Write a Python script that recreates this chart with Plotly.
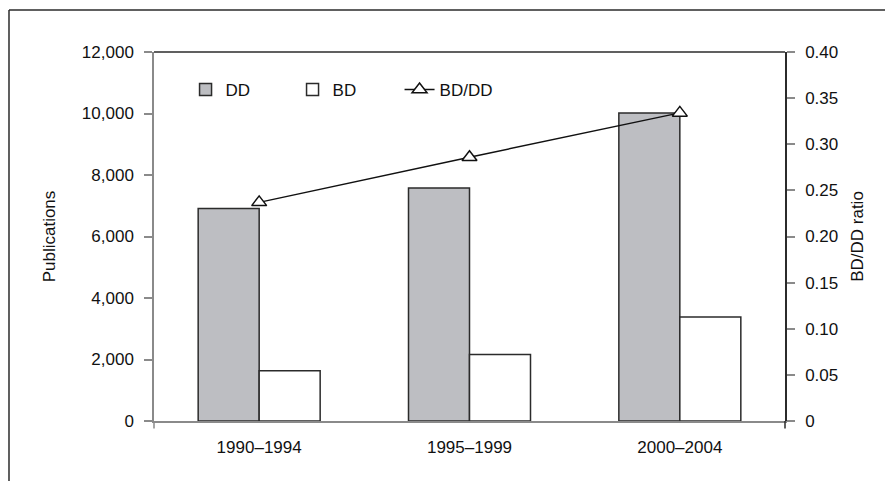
import plotly.graph_objects as go

periods = ["1990–1994", "1995–1999", "2000–2004"]
dd_values = [6910, 7580, 10020]
bd_values = [1635, 2165, 3380]
ratio_values = [0.237, 0.286, 0.334]

left_ticks = [0, 2000, 4000, 6000, 8000, 10000, 12000]
right_ticks = [0, 0.05, 0.10, 0.15, 0.20, 0.25, 0.30, 0.35, 0.40]
right_tick_text = ["0", "0.05", "0.10", "0.15", "0.20", "0.25", "0.30", "0.35", "0.40"]

FONT = "Liberation Sans"
DARK = "#2b2b2b"
GREY_AXIS = "#8a8a8a"
FS = 17

fig = go.Figure()
fig.add_trace(go.Bar(
    x=periods, y=dd_values, name="DD",
    marker=dict(color="#bdbec2", line=dict(color=DARK, width=1.5)),
))
fig.add_trace(go.Bar(
    x=periods, y=bd_values, name="BD",
    marker=dict(color="#ffffff", line=dict(color=DARK, width=1.5)),
))
fig.add_trace(go.Scatter(
    x=periods, y=ratio_values, name="BD/DD", yaxis="y2",
    mode="lines+markers",
    line=dict(color="#111111", width=1.5),
    marker=dict(symbol="triangle-up", size=13, color="#ffffff",
                line=dict(color="#111111", width=1.5)),
))

fig.update_layout(
    width=885, height=473,
    margin=dict(l=146, r=108, t=44, b=60),
    paper_bgcolor="white", plot_bgcolor="white",
    font=dict(family=FONT, size=FS, color="#111111"),
    barmode="group", bargap=0.42, bargroupgap=0,
    showlegend=True,
    legend=dict(orientation="h", x=0.05, xanchor="left", y=0.897, yanchor="middle",
                entrywidth=62, entrywidthmode="pixels",
                font=dict(family=FONT, size=FS), bgcolor="rgba(0,0,0,0)",
                traceorder="normal"),
    xaxis=dict(
        showline=True, linecolor=GREY_AXIS, linewidth=1.5,
        ticks="", showgrid=False, zeroline=False,
        ticklabelstandoff=10,
        tickfont=dict(family=FONT, size=FS),
    ),
    yaxis=dict(
        range=[0, 12000], tickvals=left_ticks, tickformat=",d",
        showline=True, linecolor=GREY_AXIS, linewidth=1.5,
        ticks="outside", ticklen=8, tickcolor=GREY_AXIS, tickwidth=1.5,
        ticklabelstandoff=7,
        showgrid=False, zeroline=False,
        title=dict(text="Publications", font=dict(family=FONT, size=FS), standoff=22),
        tickfont=dict(family=FONT, size=FS),
    ),
    yaxis2=dict(
        range=[0, 0.40], tickvals=right_ticks, ticktext=right_tick_text,
        overlaying="y", side="right",
        showline=True, linecolor=DARK, linewidth=1.5,
        ticks="outside", ticklen=8, tickcolor=GREY_AXIS, tickwidth=1.5,
        ticklabelstandoff=7,
        showgrid=False, zeroline=False,
        title=dict(text="BD/DD ratio", font=dict(family=FONT, size=FS), standoff=14),
        tickfont=dict(family=FONT, size=FS),
    ),
    shapes=[
        # top border of plot area
        dict(type="line", xref="paper", yref="paper", x0=0, x1=1, y0=1, y1=1,
             line=dict(color=DARK, width=1.5)),
        # axis extensions below zero
        dict(type="line", xref="paper", yref="paper", x0=0, x1=0, y0=0, y1=-0.02,
             line=dict(color=GREY_AXIS, width=1.5)),
        dict(type="line", xref="paper", yref="paper", x0=1, x1=1, y0=0, y1=-0.02,
             line=dict(color=DARK, width=1.5)),
        # outer frame (top and left)
        dict(type="line", xref="paper", yref="paper", x0=-0.2298, x1=1.18, y0=1.1138, y1=1.1138,
             line=dict(color=DARK, width=1.5)),
        dict(type="line", xref="paper", yref="paper", x0=-0.2298, x1=-0.2298, y0=1.1138, y1=-0.2,
             line=dict(color=DARK, width=1.5)),
    ],
)

fig.write_html("out.html")
